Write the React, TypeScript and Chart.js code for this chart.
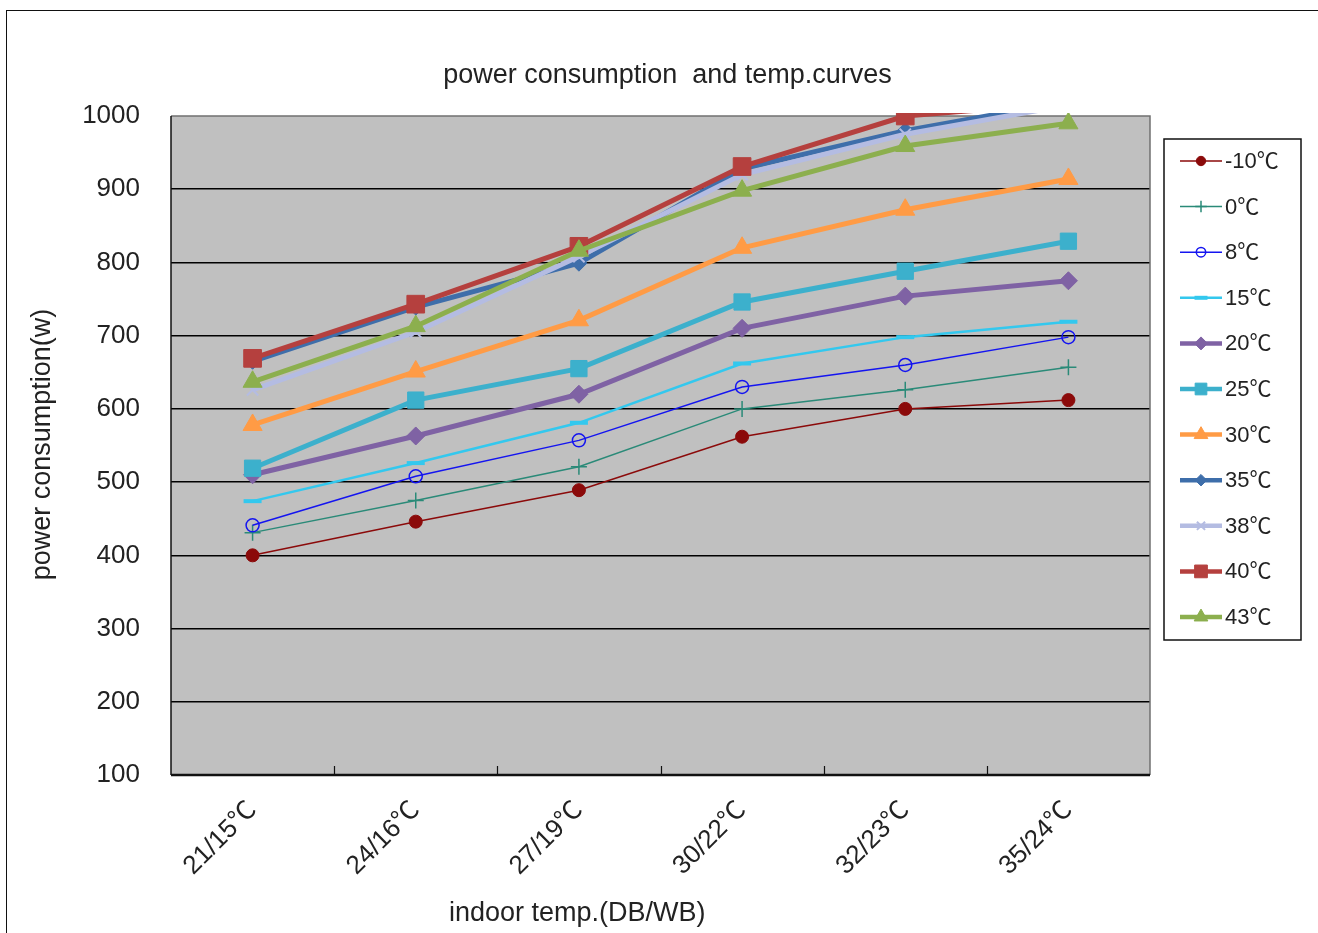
import React, { useEffect, useRef } from 'react';
import { Chart, registerables } from 'chart.js';

Chart.register(...registerables);

// ---------- data ----------
const categories = ['21/15℃', '24/16℃', '27/19℃', '30/22℃', '32/23℃', '35/24℃'];
const seriesLabels = ['-10℃', '0℃', '8℃', '15℃', '20℃', '25℃', '30℃', '35℃', '38℃', '40℃', '43℃'];
const outdoorM10 = [400, 446, 489, 562, 600, 612];
const outdoor0 = [431, 475, 521, 600, 626, 657];
const outdoor8 = [441, 508, 557, 630, 660, 698];
const outdoor15 = [474, 526, 581, 662, 698, 719];
const outdoor20 = [510, 563, 620, 710, 754, 775];
const outdoor25 = [519, 612, 655, 746, 788, 829];
const outdoor30 = [578, 651, 721, 820, 872, 914];
const outdoor35 = [665, 739, 799, 928, 980, 1020];
const outdoor38 = [626, 705, 808, 920, 975, 1015];
const outdoor40 = [669, 743, 822, 931, 1000, 1018];
const outdoor43 = [637, 713, 816, 898, 959, 990];
const yMin = 100;
const yMax = 1000;
const yStep = 100;

const titleText = 'power consumption  and temp.curves';
const xTitleText = 'indoor temp.(DB/WB)';
const yTitleText = 'power consumption(w)';

// ---------- styles ----------
const FONT = "'Liberation Sans', Arial, 'Noto Sans CJK SC', sans-serif";
const TEXT = '#222222';
const seriesStyles = [
  { color: '#8B0A0A', width: 1.5, point: 'circle', r: 6.5, hollow: false, pbw: 1 },
  { color: '#2A8A78', width: 1.5, point: 'cross', r: 8, hollow: true, pbw: 1.5 },
  { color: '#1414F0', width: 1.5, point: 'circle', r: 6.5, hollow: true, pbw: 1.5 },
  { color: '#33C8EE', width: 2.5, point: 'line', r: 9, hollow: false, pbw: 4 },
  { color: '#7F62A4', width: 5, point: 'rectRot', r: 9, hollow: false, pbw: 1 },
  { color: '#3CB0CC', width: 5, point: 'rect', r: 11.5, hollow: false, pbw: 1 },
  { color: '#FF9B45', width: 5, point: 'triangle', r: 11, hollow: false, pbw: 1 },
  { color: '#3E6EAA', width: 5, point: 'rectRot', r: 8, hollow: false, pbw: 1 },
  { color: '#B4BCE2', width: 5, point: 'crossRot', r: 8, hollow: false, pbw: 2 },
  { color: '#B5403E', width: 5, point: 'rect', r: 12.5, hollow: false, pbw: 1 },
  { color: '#8CAF4E', width: 5, point: 'triangle', r: 11, hollow: false, pbw: 1 },
];
const seriesValues = [
  outdoorM10, outdoor0, outdoor8, outdoor15, outdoor20, outdoor25,
  outdoor30, outdoor35, outdoor38, outdoor40, outdoor43,
];

function drawMarker(ctx: CanvasRenderingContext2D, style: string, x: number, y: number, r: number,
  color: string, hollow: boolean, bw: number) {
  ctx.save();
  ctx.beginPath();
  ctx.fillStyle = hollow ? 'rgba(0,0,0,0)' : color;
  ctx.strokeStyle = color;
  ctx.lineWidth = bw;
  let rad = 0;
  switch (style) {
    case 'circle':
      ctx.arc(x, y, r, 0, Math.PI * 2);
      if (!hollow) ctx.fill();
      ctx.stroke();
      break;
    case 'rect': {
      const s = r * Math.SQRT1_2;
      ctx.rect(x - s, y - s, 2 * s, 2 * s);
      ctx.fill();
      ctx.stroke();
      break;
    }
    case 'rectRot':
      ctx.moveTo(x, y - r);
      ctx.lineTo(x + r, y);
      ctx.lineTo(x, y + r);
      ctx.lineTo(x - r, y);
      ctx.closePath();
      ctx.fill();
      ctx.stroke();
      break;
    case 'triangle':
      ctx.moveTo(x + Math.sin(rad) * r, y - Math.cos(rad) * r);
      rad += (2 * Math.PI) / 3;
      ctx.lineTo(x + Math.sin(rad) * r, y - Math.cos(rad) * r);
      rad += (2 * Math.PI) / 3;
      ctx.lineTo(x + Math.sin(rad) * r, y - Math.cos(rad) * r);
      ctx.closePath();
      ctx.fill();
      ctx.stroke();
      break;
    case 'cross':
      ctx.moveTo(x, y - r);
      ctx.lineTo(x, y + r);
      ctx.moveTo(x - r, y);
      ctx.lineTo(x + r, y);
      ctx.stroke();
      break;
    case 'crossRot': {
      const d = r * Math.SQRT1_2;
      ctx.moveTo(x - d, y - d);
      ctx.lineTo(x + d, y + d);
      ctx.moveTo(x + d, y - d);
      ctx.lineTo(x - d, y + d);
      ctx.stroke();
      break;
    }
    case 'line':
      ctx.moveTo(x - r, y);
      ctx.lineTo(x + r, y);
      ctx.stroke();
      break;
  }
  ctx.restore();
}

const decorPlugin = {
  id: 'decor',
  beforeDraw(chart: any) {
    const { ctx, chartArea: a } = chart;
    ctx.save();
    ctx.fillStyle = '#C0C0C0';
    ctx.fillRect(a.left, a.top, a.right - a.left, a.bottom - a.top);
    ctx.restore();
  },
  beforeDatasetsDraw(chart: any) {
    const { ctx, chartArea: a } = chart;
    const xs = chart.scales.x;
    ctx.save();
    ctx.strokeStyle = '#707070';
    ctx.lineWidth = 1.5;
    ctx.beginPath();
    ctx.moveTo(a.left, a.top);
    ctx.lineTo(a.right, a.top);
    ctx.lineTo(a.right, a.bottom);
    ctx.stroke();
    ctx.strokeStyle = '#111';
    ctx.lineWidth = 1.5;
    ctx.beginPath();
    ctx.moveTo(a.left, a.top);
    ctx.lineTo(a.left, a.bottom);
    ctx.stroke();
    ctx.lineWidth = 2.5;
    ctx.beginPath();
    ctx.moveTo(a.left, a.bottom);
    ctx.lineTo(a.right, a.bottom);
    ctx.stroke();
    ctx.lineWidth = 1.2;
    ctx.beginPath();
    for (let i = 0; i < categories.length - 1; i++) {
      const bx = (xs.getPixelForTick(i) + xs.getPixelForTick(i + 1)) / 2;
      ctx.moveTo(Math.round(bx) + 0.5, a.bottom);
      ctx.lineTo(Math.round(bx) + 0.5, a.bottom - 9);
    }
    ctx.stroke();
    ctx.restore();
  },
  afterDraw(chart: any) {
    const { ctx, chartArea: a } = chart;
    ctx.save();
    ctx.fillStyle = TEXT;
    ctx.font = `27px ${FONT}`;
    ctx.textAlign = 'center';
    ctx.textBaseline = 'middle';
    ctx.fillText(titleText, (a.left + a.right) / 2 + 7, a.top - 40);
    ctx.fillText(xTitleText, a.left + (a.right - a.left) * 0.415, a.bottom + 139);
    ctx.save();
    ctx.translate(a.left - 128, (a.top + a.bottom) / 2 - 1);
    ctx.rotate(-Math.PI / 2);
    ctx.fillText(yTitleText, 0, 0);
    ctx.restore();

    const lx = a.right + 14;
    const ly = a.top + 23;
    const lw = 137;
    const lh = 501;
    ctx.fillStyle = '#FFFFFF';
    ctx.fillRect(lx, ly, lw, lh);
    ctx.strokeStyle = '#111';
    ctx.lineWidth = 1.5;
    ctx.strokeRect(lx, ly, lw, lh);
    ctx.font = `22px ${FONT}`;
    ctx.textAlign = 'left';
    ctx.textBaseline = 'middle';
    chart.data.datasets.forEach((ds: any, i: number) => {
      const st = seriesStyles[i];
      const y = ly + 22 + i * 45.6;
      ctx.save();
      ctx.strokeStyle = st.color;
      ctx.lineWidth = Math.min(st.width, 4.5);
      ctx.beginPath();
      ctx.moveTo(lx + 16, y);
      ctx.lineTo(lx + 58, y);
      ctx.stroke();
      ctx.restore();
      drawMarker(ctx, st.point, lx + 37, y, st.r * 0.72, st.color, st.hollow, st.pbw);
      ctx.fillStyle = TEXT;
      ctx.fillText(ds.label, lx + 61, y + 1);
    });
    ctx.restore();
  },
};

export default function App() {
  const canvasRef = useRef<HTMLCanvasElement | null>(null);

  useEffect(() => {
    if (!canvasRef.current) return;
    const datasets = seriesValues.map((vals, i) => {
      const st = seriesStyles[i];
      return {
        label: seriesLabels[i],
        data: vals,
        borderColor: st.color,
        backgroundColor: st.color,
        borderWidth: st.width,
        pointStyle: st.point,
        pointRadius: st.r,
        pointHoverRadius: st.r,
        pointBorderWidth: st.pbw,
        pointBorderColor: st.color,
        pointBackgroundColor: st.hollow ? 'rgba(0,0,0,0)' : st.color,
        tension: 0,
        fill: false,
        order: seriesValues.length - i,
        clip: { left: false, right: false, bottom: false, top: 3 },
      };
    });

    const chart = new Chart(canvasRef.current, {
      type: 'line',
      data: { labels: categories, datasets },
      options: {
        animation: false,
        responsive: false,
        maintainAspectRatio: false,
        layout: { padding: { left: 0, top: 105, right: 168, bottom: 0 } },
        plugins: {
          legend: { display: false },
          title: { display: false },
          tooltip: { enabled: false },
        },
        scales: {
          x: {
            type: 'category',
            offset: true,
            grid: { display: false, drawTicks: false },
            border: { display: false },
            ticks: {
              autoSkip: false,
              minRotation: 45,
              maxRotation: 45,
              padding: 20,
              color: TEXT,
              font: { family: FONT, size: 26 },
            },
            afterFit(scale: any) {
              scale.height = 158;
            },
          },
          y: {
            min: yMin,
            max: yMax,
            ticks: {
              stepSize: yStep,
              padding: 31,
              color: TEXT,
              font: { family: FONT, size: 26 },
              callback: (v: any) => String(v),
            },
            grid: {
              drawTicks: false,
              lineWidth: 1.5,
              color: (c: any) =>
                c.tick && (c.tick.value === yMin || c.tick.value === yMax) ? 'rgba(0,0,0,0)' : '#000000',
            },
            border: { display: false },
            afterFit(scale: any) {
              scale.width = 164;
            },
          },
        },
      },
      plugins: [decorPlugin],
    } as any);

    return () => chart.destroy();
  }, []);

  return (
    <div>
      <div
        style={{
          position: 'fixed',
          left: 6,
          top: 10,
          width: 1400,
          height: 1000,
          border: '1px solid #111',
          background: '#fff',
          boxSizing: 'border-box',
        }}
      />
      <canvas
        ref={canvasRef}
        width={1311}
        height={922}
        style={{ position: 'fixed', left: 7, top: 11, width: 1311, height: 922, display: 'block' }}
      />
    </div>
  );
}
